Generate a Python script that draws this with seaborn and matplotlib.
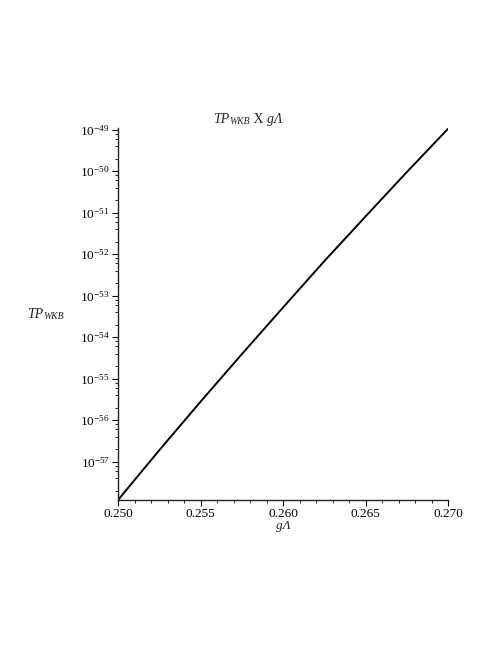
import math
import matplotlib
matplotlib.use('Agg')
import matplotlib.pyplot as plt
import matplotlib.ticker as mticker
import seaborn as sns
import pandas as pd

# values
g_lambda = [0.250, 0.2525, 0.255, 0.2575, 0.260, 0.2625, 0.265, 0.2675, 0.270]
tp_wkb = [1.2e-58, 1.9e-57, 2.8e-56, 3.9e-55, 5.2e-54, 6.8e-53, 8.1e-52, 9.5e-51, 1.05e-49]
x_ticks = [0.250, 0.255, 0.260, 0.265, 0.270]
y_exponents = [-57, -56, -55, -54, -53, -52, -51, -50, -49]


if __name__ == "__main__":
    sns.set_style('ticks')
    plt.rcParams['font.family'] = ['Liberation Serif', 'DejaVu Serif']
    plt.rcParams['mathtext.fontset'] = 'custom'
    plt.rcParams['mathtext.rm'] = 'Liberation Serif'
    plt.rcParams['mathtext.it'] = 'Liberation Serif:italic'

    fig = plt.figure(figsize=(4.98, 6.45), dpi=100)
    ax = fig.add_axes([0.237, 0.2248, 0.6626, 0.5768])

    df = pd.DataFrame({'g': g_lambda, 'tp': tp_wkb})
    sns.lineplot(data=df, x='g', y='tp', color='black', linewidth=1.4, ax=ax)

    ax.set_yscale('log')
    ax.set_xlim(0.250, 0.270)
    ax.set_ylim(1.2e-58, 1.1e-49)

    ax.xaxis.set_major_locator(mticker.FixedLocator(x_ticks))
    ax.xaxis.set_minor_locator(mticker.MultipleLocator(0.001))
    ax.xaxis.set_major_formatter(mticker.FormatStrFormatter('%.3f'))
    ax.yaxis.set_major_locator(mticker.FixedLocator([10.0 ** e for e in y_exponents]))
    ax.yaxis.set_major_formatter(mticker.FuncFormatter(
        lambda v, p: r'$10^{\mathregular{-%d}}$' % round(-math.log10(v))))
    ax.yaxis.set_minor_locator(mticker.LogLocator(base=10, subs=(2, 4, 6, 8), numticks=50))
    ax.yaxis.set_minor_formatter(mticker.NullFormatter())

    ax.tick_params(axis='both', which='major', labelsize=9.5, length=4, width=0.8,
                   direction='out', colors='black', pad=2)
    ax.tick_params(axis='both', which='minor', length=2, width=0.7, direction='out')
    sns.despine(ax=ax)
    ax.spines['left'].set_linewidth(1.0)
    ax.spines['bottom'].set_linewidth(1.0)
    ax.set_xlabel('gΛ', fontsize=9.5, fontstyle='italic', labelpad=0)
    ax.set_ylabel('')

    # title and y label: "TP" with smaller "WKB" after it
    t1 = fig.text(213 / 498, 1 - 123 / 645, 'TP', fontsize=10, fontstyle='italic',
                  ha='left', va='baseline')
    t2 = ax.annotate('WKB', xy=(1, 0), xycoords=t1, fontsize=7, fontstyle='italic',
                     ha='left', va='bottom')
    t3 = ax.annotate(' X ', xy=(1, 0), xycoords=t2, fontsize=10, ha='left', va='bottom')
    ax.annotate('gΛ', xy=(1, 0), xycoords=t3, fontsize=10, fontstyle='italic',
                ha='left', va='bottom')

    y1 = fig.text(27 / 498, 1 - 318 / 645, 'TP', fontsize=10, fontstyle='italic',
                  ha='left', va='baseline')
    ax.annotate('WKB', xy=(1, 0), xycoords=y1, fontsize=7, fontstyle='italic',
                ha='left', va='bottom')

    plt.savefig('out.png', dpi=100)
